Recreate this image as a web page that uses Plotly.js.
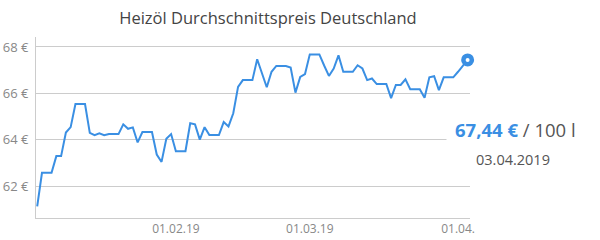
<!DOCTYPE html>
<html>
<head>
<meta charset="utf-8">
<script src="https://cdn.plot.ly/plotly-3.0.1.min.js"></script>
<style>html,body{margin:0;padding:0;background:#fff;}#chart{width:600px;height:240px;}</style>
</head>
<body>
<div id="chart"></div>
<script>
// Daily average heating oil price (€ / 100 l), 03.01.2019 – 03.04.2019
const startDate = '2019-01-03';
const prices = [
  61.12, 62.57, 62.57, 62.57, 63.29, 63.29, 64.31, 64.54, 65.54, 65.54,
  65.54, 64.29, 64.19, 64.27, 64.19, 64.24, 64.24, 64.24, 64.66, 64.47,
  64.53, 63.88, 64.33, 64.33, 64.33, 63.36, 63.04, 64.04, 64.24, 63.50,
  63.50, 63.50, 64.71, 64.66, 64.00, 64.54, 64.20, 64.20, 64.20, 64.76,
  64.57, 65.14, 66.28, 66.57, 66.57, 66.57, 67.47, 66.85, 66.26, 66.93,
  67.18, 67.18, 67.18, 67.11, 66.03, 66.71, 66.83, 67.68, 67.68, 67.68,
  67.20, 66.75, 67.07, 67.64, 66.93, 66.93, 66.93, 67.21, 67.07, 66.57,
  66.64, 66.40, 66.40, 66.40, 65.79, 66.36, 66.36, 66.60, 66.18, 66.18,
  66.18, 65.81, 66.69, 66.74, 66.14, 66.69, 66.69, 66.69, 66.93, 67.20,
  67.44
];
const yTickVals = [62, 64, 66, 68];
const yTickText = ['62 €', '64 €', '66 €', '68 €'];
const xTickVals = ['2019-02-01', '2019-03-01', '2019-04-01'];
const xTickText = ['01.02.19', '01.03.19', '01.04.'];
const titleText = 'Heizöl Durchschnittspreis Deutschland';
const priceLabel = '67,44 €';
const unitLabel = '/ 100 l';
const dateLabel = '03.04.2019';

function addDays(iso, n) {
  const d = new Date(iso + 'T00:00:00Z');
  d.setUTCDate(d.getUTCDate() + n);
  return d.toISOString().slice(0, 10);
}
const dates = prices.map((_, i) => addDays(startDate, i));
const lastX = [dates[dates.length - 1]];
const lastY = [prices[prices.length - 1]];

const blue = '#3a8fe3';
const font = 'Open Sans, sans-serif';

const traces = [
  {x: dates, y: prices, type: 'scatter', mode: 'lines',
   line: {color: blue, width: 2}, hoverinfo: 'skip', cliponaxis: false},
  {x: lastX, y: lastY, type: 'scatter', mode: 'markers',
   marker: {color: blue, size: 13}, hoverinfo: 'skip', cliponaxis: false},
  {x: lastX, y: lastY, type: 'scatter', mode: 'markers',
   marker: {color: '#ffffff', size: 4}, hoverinfo: 'skip', cliponaxis: false}
];

const layout = {
  width: 600, height: 240,
  margin: {l: 36, r: 130, t: 37, b: 22, pad: 0},
  paper_bgcolor: '#fff', plot_bgcolor: '#fff',
  showlegend: false,
  font: {family: font, color: '#888', size: 12},
  title: {text: titleText, x: 268 / 600, xref: 'container', xanchor: 'center',
          y: 18, yref: 'container', yanchor: 'middle',
          font: {family: font, size: 16.5, color: '#444'}},
  xaxis: {type: 'date', range: ['2019-01-02 18:00', '2019-04-03 12:00'],
          tickvals: xTickVals, ticktext: xTickText, showgrid: false,
          showline: true, linecolor: '#cccccc', linewidth: 1, ticks: '',
          zeroline: false, tickfont: {size: 12, color: '#888'}, fixedrange: true},
  yaxis: {range: [60.62, 68.43], tickvals: yTickVals, ticktext: yTickText,
          showgrid: true, gridcolor: '#cccccc', gridwidth: 1,
          showline: true, linecolor: '#cccccc', linewidth: 1, ticks: '',
          zeroline: false, ticklabelstandoff: 4, tickfont: {size: 13, color: '#888'}, fixedrange: true},
  annotations: [
    {xref: 'paper', yref: 'paper', x: (446 - 36) / 434, y: 0.49, xanchor: 'left', yanchor: 'middle',
     text: '<b><span style="color:' + blue + '">' + priceLabel + '</span></b> <span style="color:#555">' + unitLabel + '</span>',
     showarrow: false, font: {family: font, size: 18.5, color: '#555'},
     bgcolor: '#ffffff', borderpad: 8},
    {xref: 'paper', yref: 'paper', x: (474 - 36) / 434, y: 0.325, xanchor: 'left', yanchor: 'middle',
     text: dateLabel, showarrow: false, font: {family: font, size: 14.5, color: '#555'}}
  ]
};

Plotly.newPlot('chart', traces, layout, {displayModeBar: false, staticPlot: true});
</script>
</body>
</html>
